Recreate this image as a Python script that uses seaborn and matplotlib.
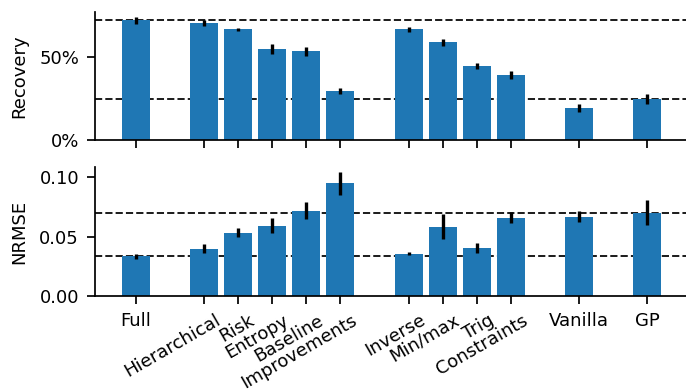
import matplotlib
matplotlib.use("Agg")
import matplotlib.pyplot as plt
import matplotlib.transforms as mtransforms
from matplotlib.ticker import PercentFormatter, FormatStrFormatter
import pandas as pd
import seaborn as sns

# Methods, grouped into blocks (bars of one block sit side by side)
methods = ["Full", "Hierarchical", "Risk", "Entropy", "Baseline", "Improvements",
           "Inverse", "Min/max", "Trig", "Constraints", "Vanilla", "GP"]
block = [0, 1, 1, 1, 1, 1, 2, 2, 2, 2, 3, 4]

# Recovery rate (%) and its error
recovery = [72.5, 70.9, 67.1, 55.0, 53.8, 29.8, 67.1, 59.2, 44.7, 39.3, 19.3, 24.8]
recovery_err = [2.0, 1.7, 0.8, 3.0, 2.7, 1.8, 1.5, 2.3, 1.8, 2.3, 2.2, 3.3]

# Normalised RMSE and its error
nrmse = [0.0334, 0.0398, 0.0534, 0.0593, 0.0720, 0.0949,
         0.0356, 0.0585, 0.0407, 0.0661, 0.0670, 0.0703]
nrmse_err = [0.0023, 0.0038, 0.0040, 0.0062, 0.0072, 0.0095,
             0.0014, 0.0103, 0.0041, 0.0048, 0.0048, 0.0105]

# x position: index plus one empty slot between blocks
pos = [i + b for i, b in enumerate(block)]
df = pd.DataFrame({"method": methods, "pos": pos,
                   "recovery": recovery, "recovery_err": recovery_err,
                   "nrmse": nrmse, "nrmse_err": nrmse_err})

sns.set_theme(style="ticks")
plt.rcParams.update({
    "font.family": ["DejaVu Sans"],
    "axes.linewidth": 1.25,
    "xtick.major.width": 1.25, "ytick.major.width": 1.25,
    "xtick.major.size": 5.5, "ytick.major.size": 5.5,
    "xtick.major.pad": 6, "ytick.major.pad": 6,
    "xtick.labelsize": 13, "ytick.labelsize": 13, "axes.labelsize": 13,
    "axes.edgecolor": "black", "xtick.color": "black", "ytick.color": "black",
    "text.color": "black", "axes.labelcolor": "black",
})

fig = plt.figure(figsize=(6.86, 3.92), dpi=100)
ax1 = fig.add_axes([0.1385, 0.643, 0.8615, 0.3265])
ax2 = fig.add_axes([0.1385, 0.245, 0.8615, 0.329])

bar_color = "#1f77b4"
full = df.iloc[0]
gp = df.iloc[-1]

for ax, col, err in [(ax1, "recovery", "recovery_err"), (ax2, "nrmse", "nrmse_err")]:
    sns.barplot(data=df, x="pos", y=col, native_scale=True, color=bar_color,
                saturation=1, errorbar=None, width=0.82, linewidth=0, ax=ax, zorder=2)
    ax.errorbar(df["pos"], df[col], yerr=df[err], fmt="none", ecolor="black",
                elinewidth=2.4, capsize=0, zorder=3)
    for ref in (full[col], gp[col]):
        ax.axhline(ref, color="#1a1a1a", lw=1.4, ls="--", zorder=1)
    ax.set_xlim(-1.19, 16.13)
    ax.set_xticks(pos)
    ax.set_xlabel("")
    sns.despine(ax=ax)

ax1.set_ylim(0, 77.6)
ax1.set_yticks([0, 50])
ax1.yaxis.set_major_formatter(PercentFormatter(100, decimals=0))
ax1.set_xticklabels([])
ax1.set_ylabel("Recovery", labelpad=8)

ax2.set_ylim(0, 0.1088)
ax2.set_yticks([0, 0.05, 0.10])
ax2.yaxis.set_major_formatter(FormatStrFormatter("%.2f"))
ax2.set_ylabel("NRMSE", labelpad=8)
ax2.set_xticklabels(methods)

# slanted labels for the ablation blocks
shift = mtransforms.ScaledTranslation(0.155, -0.07, fig.dpi_scale_trans)
for lab, b in zip(ax2.get_xticklabels(), block):
    if b in (1, 2):
        lab.set_rotation(30)
        lab.set_rotation_mode("anchor")
        lab.set_ha("right")
        lab.set_va("center")
        lab.set_transform(lab.get_transform() + shift)

fig.savefig("out.png", dpi=100)
